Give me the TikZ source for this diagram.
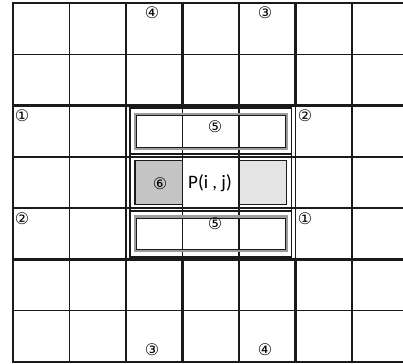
\documentclass[tikz,border=0pt]{standalone}
\usepackage{fontspec}
\setmainfont{Carlito}
\newfontfamily\circfont{DejaVu Sans}
\usepackage{tikz}
\definecolor{GridInk}{HTML}{1A1A1A}
\definecolor{HaloGray}{HTML}{9C9C9C}
\definecolor{CellGray}{HTML}{C4C4C4}
\definecolor{CellLight}{HTML}{E4E4E4}

\begin{document}
\begin{tikzpicture}[x=1pt,y=-1pt,
  thingrid/.style={GridInk,line width=1.1pt},
  midgrid/.style={GridInk,line width=1.6pt},
  thickgrid/.style={GridInk,line width=2.5pt},
  framebox/.style={GridInk,line width=1.6pt},
  halobox/.style={HaloGray,line width=2.2pt},
  num/.style={font=\circfont\fontsize{16}{16}\selectfont,inner sep=0pt}]
\path[use as bounding box] (0,0) rectangle (403,363);
% thin cell lines
\foreach \i in {1,2,3,4,5,6} \draw[thingrid] ({13+56.5*\i},3) -- ({13+56.5*\i},362);
\foreach \j in {1,3,4,6} \draw[thingrid] (13,{3+51.3*\j}) -- (403,{3+51.3*\j});
\draw[midgrid] (13,156.9) -- (403,156.9);
\draw[midgrid] (13,208.2) -- (403,208.2);
\draw[thickgrid] (13,105.6) -- (403,105.6);
\draw[thickgrid] (13,259.5) -- (403,259.5);
\draw[midgrid] (126,105.6) -- (126,259.5);
\draw[midgrid] (295.5,105.6) -- (295.5,259.5);
% outer border, open on the right
\draw[thickgrid] (403,3) -- (13,3) -- (13,362) -- (403,362);
% thick column blocks
\draw[thickgrid] (126,3) rectangle (182.5,105.6);
\draw[thickgrid] (239,3) rectangle (295.5,105.6);
\draw[thickgrid] (126,259.5) rectangle (182.5,362);
\draw[thickgrid] (239,259.5) rectangle (295.5,362);
% middle frames
\draw[framebox] (130,108) rectangle (291.5,154);
\draw[framebox] (130,211) rectangle (291.5,257);
\draw[framebox] (130,154) -- (130,211);
\draw[framebox] (291.5,154) -- (291.5,211);
\draw[halobox] (135,114) rectangle (286.5,148.5);
\draw[GridInk,line width=0.8pt] (136.5,115.5) rectangle (285,147);
\draw[halobox] (135,216.5) rectangle (286.5,251);
\draw[GridInk,line width=0.8pt] (136.5,218) rectangle (285,249.5);
% side cells of P(i,j)
\draw[framebox,fill=CellGray] (135,160.5) rectangle (182.5,204.5);
\draw[framebox,fill=CellLight] (239,160.5) rectangle (286.5,204.5);
% labels
\node[num] (topfour) at (152,13) {④};
\node[num] (topthree) at (265,13) {③};
\node[num] (leftone) at (22,116) {①};
\node[num] (righttwo) at (305,116) {②};
\node[num] (lefttwo) at (22,219) {②};
\node[num] (rightone) at (305,219) {①};
\node[num] (upperfive) at (215,127) {⑤};
\node[num] (lowerfive) at (215,224) {⑤};
\node[num] (sixcell) at (160,184) {⑥};
\node[font=\fontsize{19}{19}\selectfont,inner sep=0pt] (pcell) at (210,183) {P(i , j)};
\node[num] (botthree) at (152,350) {③};
\node[num] (botfour) at (265,350) {④};
\end{tikzpicture}
\end{document}
